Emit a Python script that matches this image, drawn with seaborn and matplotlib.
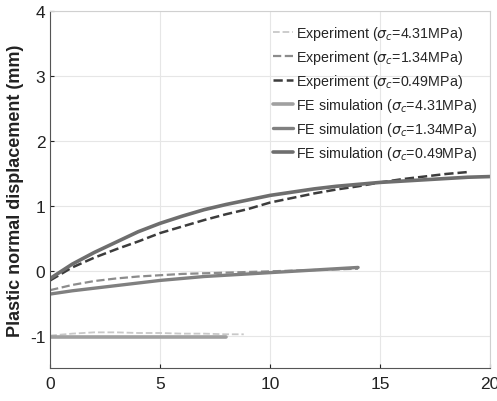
import matplotlib
matplotlib.use("Agg")
import matplotlib.pyplot as plt
import seaborn as sns
import pandas as pd

# experiment curves (dashed)
exp_431_x = [0, 1, 2, 3, 4, 5, 6, 7, 8, 8.8]
exp_431_y = [-1.0, -0.97, -0.95, -0.95, -0.96, -0.96, -0.97, -0.97, -0.98, -0.98]
exp_134_x = [0, 1, 2, 3, 4, 5, 6, 7, 8, 9, 10, 11, 12, 13, 14]
exp_134_y = [-0.3, -0.22, -0.16, -0.12, -0.09, -0.07, -0.05, -0.04, -0.03, -0.02, -0.01, 0.0, 0.01, 0.02, 0.03]
exp_049_x = list(range(0, 20))
exp_049_y = [-0.15, 0.05, 0.2, 0.33, 0.45, 0.58, 0.68, 0.78, 0.87, 0.95, 1.05, 1.12, 1.19, 1.25, 1.3, 1.36, 1.41, 1.45, 1.49, 1.52]

# FE simulation curves (solid)
fe_431_x = [0, 8]
fe_431_y = [-1.02, -1.02]
fe_134_x = [0, 1, 2, 3, 4, 5, 6, 7, 8, 9, 10, 11, 12, 13, 14]
fe_134_y = [-0.36, -0.31, -0.27, -0.23, -0.19, -0.15, -0.12, -0.09, -0.07, -0.05, -0.03, -0.01, 0.01, 0.03, 0.05]
fe_049_x = list(range(0, 21))
fe_049_y = [-0.12, 0.1, 0.28, 0.44, 0.6, 0.73, 0.84, 0.94, 1.02, 1.09, 1.16, 1.21, 1.26, 1.3, 1.33, 1.36, 1.38, 1.4, 1.42, 1.44, 1.45]

labels = [r'Experiment ($\sigma_c$=4.31MPa)', r'Experiment ($\sigma_c$=1.34MPa)', r'Experiment ($\sigma_c$=0.49MPa)',
          r'FE simulation ($\sigma_c$=4.31MPa)', r'FE simulation ($\sigma_c$=1.34MPa)', r'FE simulation ($\sigma_c$=0.49MPa)']
series = [(exp_431_x, exp_431_y), (exp_134_x, exp_134_y), (exp_049_x, exp_049_y),
          (fe_431_x, fe_431_y), (fe_134_x, fe_134_y), (fe_049_x, fe_049_y)]
colors = ['#c8c8c8', '#8c8c8c', '#3c3c3c', '#a0a0a0', '#808080', '#6e6e6e']
styles = ['--', '--', '--', '-', '-', '-']
widths = [1.3, 1.6, 1.8, 2.6, 2.4, 2.6]

sns.set_style("whitegrid")
plt.rcParams['font.family'] = ['Liberation Sans', 'DejaVu Sans']
plt.rcParams['mathtext.fontset'] = 'dejavusans'
plt.rcParams['axes.unicode_minus'] = False

fig = plt.figure(figsize=(4.97, 4.02), dpi=100)
ax = fig.add_axes([0.101, 0.082, 0.885, 0.888])

for (x, y), lab, c, ls, lw in zip(series, labels, colors, styles, widths):
    df = pd.DataFrame({'x': x, 'y': y})
    sns.lineplot(data=df, x='x', y='y', ax=ax, color=c, linestyle=ls, linewidth=lw, label=lab)

ax.set_xlim(0, 20)
ax.set_ylim(-1.5, 4)
ax.set_xticks([0, 5, 10, 15, 20])
ax.set_yticks([-1, 0, 1, 2, 3, 4])
ax.set_xlabel('')
ax.set_ylabel('Plastic normal displacement (mm)', fontsize=13, fontweight='bold', color='#222222')
ax.tick_params(labelsize=12.5, colors='#222222', direction='in', length=3, left=True, bottom=True)
ax.tick_params(axis='x', pad=6)
ax.grid(True, color='#e6e6e6', linewidth=0.8)
for side in ['left', 'bottom']:
    ax.spines[side].set_color('#555555')
for side in ['top', 'right']:
    ax.spines[side].set_color('#d0d0d0')

ax.legend(loc='upper right', frameon=False, fontsize=10.3, handlelength=1.4, handletextpad=0.2,
          labelspacing=0.42, borderaxespad=0.5)

fig.savefig('out.png', dpi=100)
